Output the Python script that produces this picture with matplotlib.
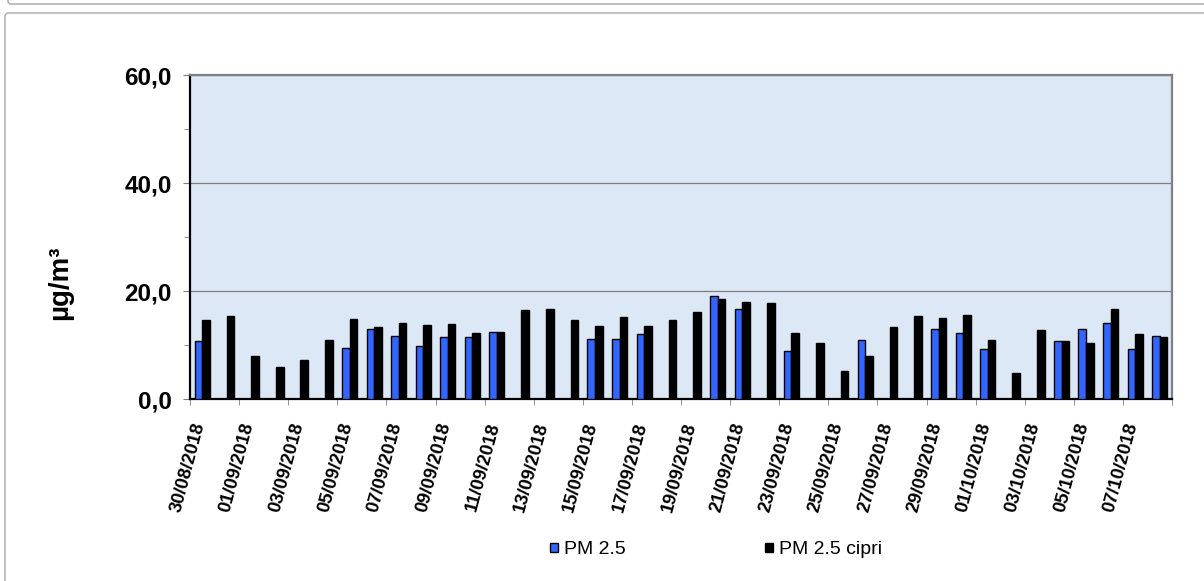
import numpy as np
import pandas as pd
import matplotlib
matplotlib.use("Agg")
import matplotlib.pyplot as plt
from matplotlib.patches import FancyBboxPatch
from matplotlib.transforms import IdentityTransform, ScaledTranslation

# Daily PM2.5 concentrations (µg/m3), 30/08/2018 - 08/10/2018
dates = pd.date_range("2018-08-30", "2018-10-08", freq="D")
date_labels = [d.strftime("%d/%m/%Y") for d in dates]

pm25 = [10.8, None, None, None, None, None, 9.5, 12.9, 11.7, 9.9,
        11.4, 11.5, 12.4, None, None, None, 11.1, 11.1, 12.1, None,
        None, 19.1, 16.7, None, 8.9, None, None, 11.0, None, None,
        12.9, 12.3, 9.3, None, None, 10.8, 12.9, 14.0, 9.3, 11.6]

pm25_cipri = [14.7, 15.4, 8.0, 5.9, 7.2, 11.0, 14.9, 13.4, 14.1, 13.7,
              13.9, 12.3, 12.4, 16.4, 16.7, 14.7, 13.6, 15.2, 13.5, 14.6,
              16.2, 18.6, 17.9, 17.7, 12.3, 10.3, 5.2, 7.9, 13.3, 15.4,
              15.0, 15.5, 11.0, 4.8, 12.7, 10.7, 10.3, 16.7, 12.0, 11.4]

series_names = ["PM 2.5", "PM 2.5 cipri"]
y_ticks = [0, 20, 40, 60]

W, H = 1204, 581
fig = plt.figure(figsize=(W / 100, H / 100), dpi=100)
fig.patch.set_facecolor("white")

ax = fig.add_axes([190 / W, (H - 399) / H, 982 / W, 324 / H])
ax.set_facecolor("#dce8f5")

x = np.arange(len(dates))
bw = 0.31
blue = np.array([np.nan if v is None else v for v in pm25], dtype=float)
black = np.array(pm25_cipri, dtype=float)

b1 = ax.bar(x - bw / 2, blue, width=bw, color="#3366ff", edgecolor="black",
            linewidth=1.0, label=series_names[0], zorder=3)
b2 = ax.bar(x + bw / 2, black, width=bw, color="black", edgecolor="black",
            linewidth=1.0, label=series_names[1], zorder=3)

ax.set_xlim(-0.5, len(dates) - 0.5)
ax.set_ylim(0, 60)

# y axis
ax.set_yticks(y_ticks)
ax.set_yticklabels([f"{v:.1f}".replace(".", ",") for v in y_ticks],
                   fontsize=17.5, fontweight="bold", fontfamily="Liberation Sans")
ax.set_yticks([10, 30, 50], minor=True)
ax.tick_params(axis="y", which="major", direction="out", length=5,
               color="#808080", pad=8)
ax.tick_params(axis="y", which="minor", direction="out", length=4,
               color="#808080")
ax.grid(axis="y", which="major", color="#808080", linewidth=0.9, zorder=1)

# x axis: labels on every second day, tick marks between day pairs
ax.set_xticks(x[::2])
ax.set_xticklabels(date_labels[::2], rotation=75, ha="right", va="top",
                   fontsize=13.2, fontweight="bold", fontfamily="Liberation Sans")
ax.tick_params(axis="x", which="major", length=0, pad=11)
shift = ScaledTranslation(6 / 100, -6 / 100, fig.dpi_scale_trans)
for lab in ax.get_xticklabels():
    lab.set_transform(lab.get_transform() + shift)
ax.set_xticks(np.arange(-0.5, len(dates), 2), minor=True)
ax.tick_params(axis="x", which="minor", direction="out", length=4,
               color="#808080")

for side in ("top", "right"):
    ax.spines[side].set_color("#808080")
    ax.spines[side].set_linewidth(1.6)
for side in ("left", "bottom"):
    ax.spines[side].set_color("black")
    ax.spines[side].set_linewidth(1.6)
ax.set_axisbelow(True)

fig.text(60 / W, (H - 283) / H, "µg/m³", rotation=90, ha="center",
         va="center", fontsize=20, fontweight="bold",
         fontfamily="Liberation Sans")

fig.legend(handles=[b1, b2], labels=series_names, loc="center",
           bbox_to_anchor=(716 / W, (H - 550) / H), ncol=2,
           frameon=False, handlelength=0.38, handleheight=0.38,
           handletextpad=0.3, columnspacing=7.2,
           prop={"family": "Liberation Sans", "size": 14})

# chart frame
frame_col = "#b4b4b4"
fig.add_artist(FancyBboxPatch((5, -20), W + 20, H - 13 + 20,
                              boxstyle="round,pad=0,rounding_size=4",
                              transform=IdentityTransform(),
                              facecolor="none", edgecolor=frame_col,
                              linewidth=1.2))
fig.add_artist(FancyBboxPatch((8, H - 4), W + 20, 30,
                              boxstyle="round,pad=0,rounding_size=3",
                              transform=IdentityTransform(),
                              facecolor="none", edgecolor=frame_col,
                              linewidth=1.2))

fig.savefig("out.png", dpi=100)
